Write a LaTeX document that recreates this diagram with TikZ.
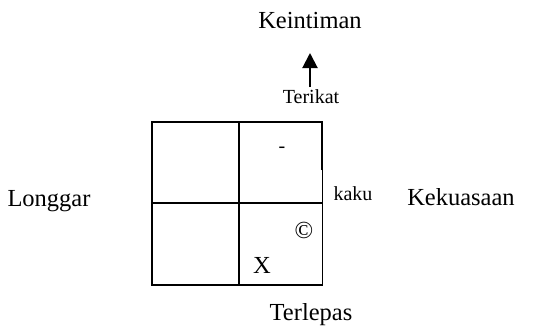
\documentclass[tikz,border=0pt]{standalone}
\usepackage{fontspec}
\setmainfont{Liberation Serif}
\usetikzlibrary{arrows.meta}
\begin{document}
\begin{tikzpicture}[x=1pt,y=-1pt,
  big/.style={font=\fontsize{24.5}{28}\selectfont, inner sep=0pt, anchor=base},
  small/.style={font=\fontsize{20}{23}\selectfont, inner sep=0pt, anchor=base},
  gridline/.style={line width=2pt},
  thinline/.style={line width=1.4pt}]
\useasboundingbox (0,0) rectangle (533,333);
% texts
\node[big] (keintiman) at (310,28) {Keintiman};
\node[small] (terikat) at (311,103) {Terikat};
\node[big] (longgar) at (49,206) {Longgar};
\node[small] (kaku) at (353,200) {kaku};
\node[big] (kekuasaan) at (461,205) {Kekuasaan};
\node[big] (terlepas) at (311,320) {Terlepas};
\node[small] (dash) at (282,152) {-};
\node[big] (copy) at (304,238) {©};
\node[big] (x) at (262,273) {X};
% arrow
\coordinate (abot) at (310,87);
\coordinate (atop) at (310,53);
\draw[line width=2pt, -{Triangle[length=15pt,width=15pt]}] (abot) -- (atop);
% grid
\coordinate (tl) at (152,122);
\coordinate (tm) at (239,122);
\coordinate (tr) at (322,122);
\coordinate (rb1) at (322,170);
\coordinate (rb2) at (322.6,169);
\coordinate (br) at (322.6,285);
\coordinate (bm) at (239,285);
\coordinate (bl) at (152,285);
\coordinate (ml) at (152,203);
\coordinate (mr) at (323,203);
\draw[gridline] (rb1) -- (tr) -- (tl) -- (bl) -- (br);
\draw[thinline] (rb2) -- (br);
\draw[gridline] (tm) -- (bm);
\draw[gridline] (ml) -- (mr);
\end{tikzpicture}
\end{document}
